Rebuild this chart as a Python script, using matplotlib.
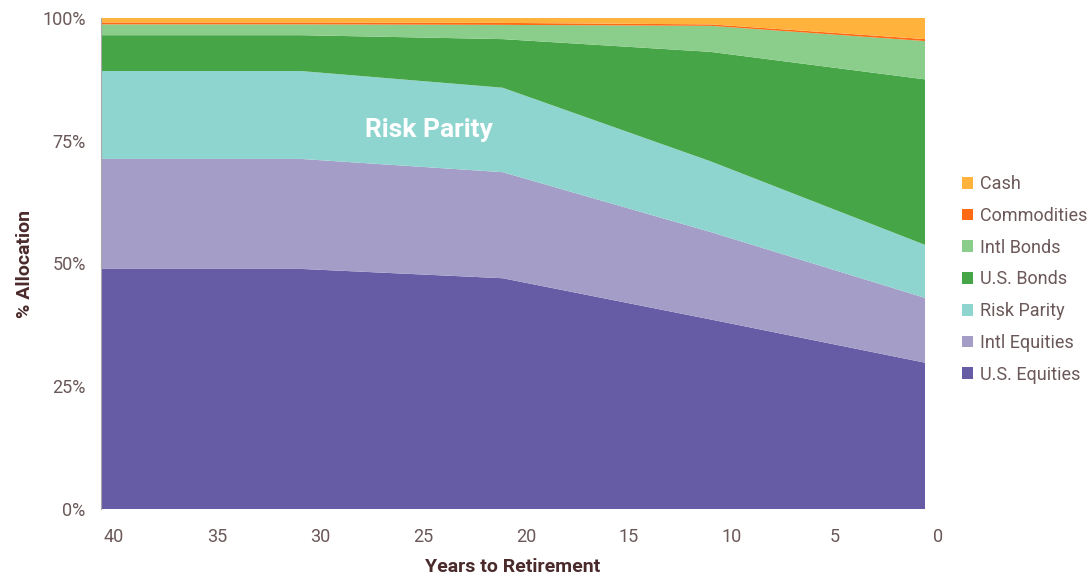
import matplotlib
matplotlib.use("Agg")
import matplotlib.pyplot as plt
import matplotlib.transforms as mtransforms
from matplotlib.patches import Patch

# Glide path breakpoints (years to retirement) and allocation in % per asset class
years = [40, 30.3, 20.5, 10.4, 0]
us_equities = [48.9, 48.9, 47.0, 38.6, 29.8]
intl_equities = [22.4, 22.4, 21.6, 17.8, 13.2]
risk_parity = [17.9, 17.9, 17.2, 14.4, 10.8]
us_bonds = [7.3, 7.3, 9.9, 22.3, 33.7]
intl_bonds = [2.2, 2.2, 2.9, 5.3, 7.8]
commodities = [0.4, 0.4, 0.4, 0.3, 0.4]
cash = [0.9, 0.9, 1.0, 1.3, 4.3]

series_names = ["U.S. Equities", "Intl Equities", "Risk Parity", "U.S. Bonds",
                "Intl Bonds", "Commodities", "Cash"]
series_colors = ["#665ca5", "#a39dc8", "#8fd5cf", "#46a547",
                 "#8bcd8b", "#ff6a13", "#ffb33c"]

x_ticks = [40, 35, 30, 25, 20, 15, 10, 5, 0]
y_ticks = [0, 25, 50, 75, 100]
y_tick_labels = ["0%", "25%", "50%", "75%", "100%"]

plt.rcParams["font.family"] = ["Roboto", "DejaVu Sans"]
tick_color = "#6b5858"
label_color = "#4a2a2a"

fig = plt.figure(figsize=(10.91, 5.77), dpi=100)
ax = fig.add_axes([101 / 1091, 68 / 577, 824 / 1091, 491 / 577])

ax.stackplot(years, us_equities, intl_equities, risk_parity, us_bonds,
             intl_bonds, commodities, cash, colors=series_colors,
             labels=series_names, linewidth=0)

ax.set_xlim(40, 0)
ax.set_ylim(0, 100)

ax.set_xticks(x_ticks)
ax.set_xticklabels([str(t) for t in x_ticks])
ax.set_yticks(y_ticks)
ax.set_yticklabels(y_tick_labels)
ax.tick_params(axis="both", length=0, labelsize=13, colors=tick_color)
ax.tick_params(axis="x", pad=14)
ax.tick_params(axis="y", pad=11)

# shift category labels slightly to the right
shift = mtransforms.ScaledTranslation(0.13, 0, fig.dpi_scale_trans)
for lbl in ax.get_xticklabels():
    lbl.set_transform(lbl.get_transform() + shift)

for side in ["top", "right", "bottom"]:
    ax.spines[side].set_visible(False)
ax.spines["left"].set_color("#a8a8a8")
ax.spines["left"].set_linewidth(0.8)

ax.set_xlabel("Years to Retirement", fontsize=14, fontweight="bold",
              color=label_color, labelpad=8)
ax.set_ylabel("% Allocation", fontsize=14, fontweight="bold",
              color=label_color, labelpad=6)

ax.text(24.1, 77.2, "Risk Parity", color="white", fontsize=19,
        fontweight="bold", ha="center", va="center")

handles = [Patch(facecolor=c, edgecolor="none") for c in series_colors][::-1]
leg = ax.legend(handles, series_names[::-1], loc="upper left",
                bbox_to_anchor=(955 / 1091, 1 - 168 / 577),
                bbox_transform=fig.transFigure, frameon=False,
                fontsize=13, handlelength=0.62, handleheight=0.62,
                handletextpad=0.35, labelspacing=0.76, borderaxespad=0)
for t in leg.get_texts():
    t.set_color(tick_color)

fig.savefig("out.png", dpi=100)
